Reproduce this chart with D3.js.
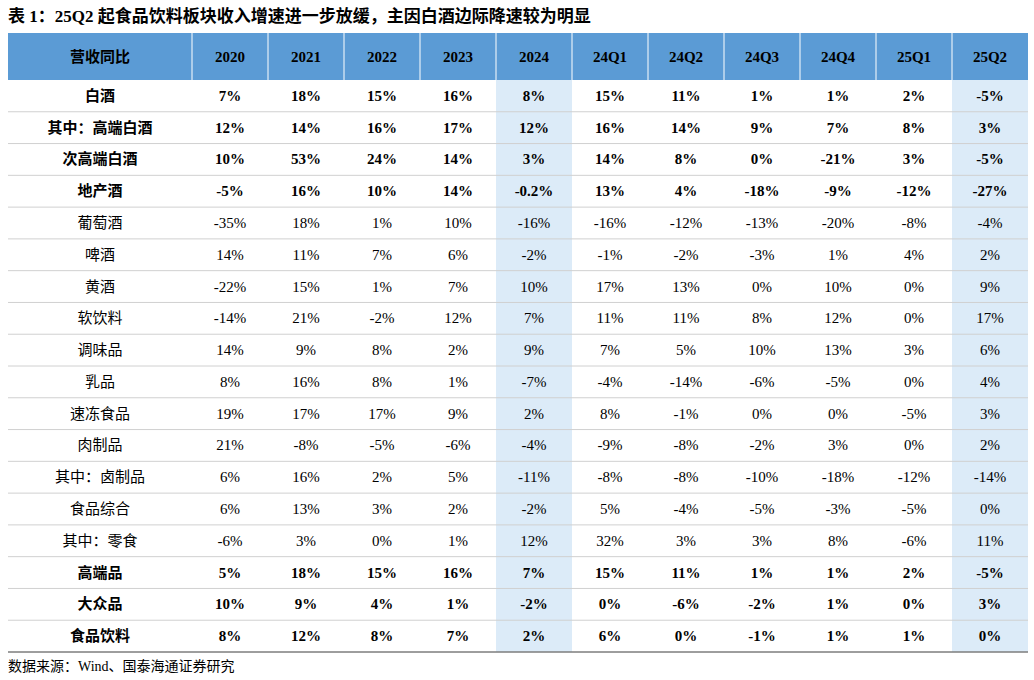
<!DOCTYPE html>
<html><head><meta charset="utf-8">
<script src="https://cdn.jsdelivr.net/npm/d3@7"></script>
<style>
body { margin: 0; background: #fff; }
text { font-family: "Liberation Serif", "Noto Sans CJK SC", serif; }
</style></head>
<body>
<svg id="chart"></svg>
<script>
const periods = ['2020','2021','2022','2023','2024','24Q1','24Q2','24Q3','24Q4','25Q1','25Q2']
const categories = ['白酒','其中：高端白酒','次高端白酒','地产酒','葡萄酒','啤酒','黄酒','软饮料','调味品','乳品','速冻食品','肉制品','其中：卤制品','食品综合','其中：零食','高端品','大众品','食品饮料']
const values = [
  ['7%','18%','15%','16%','8%','15%','11%','1%','1%','2%','-5%'],
  ['12%','14%','16%','17%','12%','16%','14%','9%','7%','8%','3%'],
  ['10%','53%','24%','14%','3%','14%','8%','0%','-21%','3%','-5%'],
  ['-5%','16%','10%','14%','-0.2%','13%','4%','-18%','-9%','-12%','-27%'],
  ['-35%','18%','1%','10%','-16%','-16%','-12%','-13%','-20%','-8%','-4%'],
  ['14%','11%','7%','6%','-2%','-1%','-2%','-3%','1%','4%','2%'],
  ['-22%','15%','1%','7%','10%','17%','13%','0%','10%','0%','9%'],
  ['-14%','21%','-2%','12%','7%','11%','11%','8%','12%','0%','17%'],
  ['14%','9%','8%','2%','9%','7%','5%','10%','13%','3%','6%'],
  ['8%','16%','8%','1%','-7%','-4%','-14%','-6%','-5%','0%','4%'],
  ['19%','17%','17%','9%','2%','8%','-1%','0%','0%','-5%','3%'],
  ['21%','-8%','-5%','-6%','-4%','-9%','-8%','-2%','3%','0%','2%'],
  ['6%','16%','2%','5%','-11%','-8%','-8%','-10%','-18%','-12%','-14%'],
  ['6%','13%','3%','2%','-2%','5%','-4%','-5%','-3%','-5%','0%'],
  ['-6%','3%','0%','1%','12%','32%','3%','3%','8%','-6%','11%'],
  ['5%','18%','15%','16%','7%','15%','11%','1%','1%','2%','-5%'],
  ['10%','9%','4%','1%','-2%','0%','-6%','-2%','1%','0%','3%'],
  ['8%','12%','8%','7%','2%','6%','0%','-1%','1%','1%','0%']
]
const boldRows = new Set([0,1,2,3,15,16,17])
const highlightCols = new Set(['2024','25Q2'])

const W = 1034, H = 680
const svg = d3.select('#chart').attr('width', W).attr('height', H)

svg.append('text').attr('x', 8).attr('y', 22)
  .attr('font-size', 17).attr('font-weight', 'bold')
  .text('表 1：25Q2 起食品饮料板块收入增速进一步放缓，主因白酒边际降速较为明显')

const tLeft = 8, firstW = 184, tRight = 1028
const tTop = 33, headH = 47, tBottom = 652
const x = d3.scaleBand().domain(periods).range([tLeft + firstW, tRight])
const y = d3.scaleBand().domain(categories).range([tTop + headH, tBottom])

// highlighted columns
svg.selectAll('.hl').data(periods.filter(p => highlightCols.has(p))).enter()
  .append('rect').attr('x', d => x(d)).attr('y', tTop + headH)
  .attr('width', x.bandwidth()).attr('height', tBottom - tTop - headH)
  .attr('fill', '#dcebf8')

// header
svg.append('rect').attr('x', tLeft).attr('y', tTop).attr('width', tRight - tLeft).attr('height', headH)
  .attr('fill', '#5b9bd5')
svg.selectAll('.vsep').data(periods).enter().append('line')
  .attr('x1', d => x(d)).attr('x2', d => x(d)).attr('y1', tTop).attr('y2', tTop + headH)
  .attr('stroke', '#ffffff').attr('stroke-width', 1)
svg.append('text').attr('x', tLeft + firstW / 2).attr('y', tTop + headH / 2 + 5)
  .attr('text-anchor', 'middle').attr('font-size', 15).attr('font-weight', 'bold').text('营收同比')
svg.selectAll('.hd').data(periods).enter().append('text')
  .attr('x', d => x(d) + x.bandwidth() / 2).attr('y', tTop + headH / 2 + 5)
  .attr('text-anchor', 'middle').attr('font-size', 15).attr('font-weight', 'bold').text(d => d)

// row lines
svg.selectAll('.hline').data(categories).enter().append('line')
  .attr('x1', tLeft).attr('x2', tRight)
  .attr('y1', d => y(d) + y.bandwidth()).attr('y2', d => y(d) + y.bandwidth())
  .attr('stroke', '#d0d0d0').attr('stroke-width', 1)
svg.append('line').attr('x1', tLeft).attr('x2', tRight).attr('y1', tBottom).attr('y2', tBottom)
  .attr('stroke', '#555').attr('stroke-width', 1.2)

// rows
const rows = svg.selectAll('.row').data(categories).enter().append('g')
  .attr('transform', d => 'translate(0,' + (y(d) + y.bandwidth() / 2 + 5) + ')')
rows.append('text').attr('x', tLeft + firstW / 2).attr('text-anchor', 'middle')
  .attr('font-size', 15).attr('font-weight', (d, i) => boldRows.has(i) ? 'bold' : 'normal')
  .text(d => d)
rows.each(function (d, i) {
  d3.select(this).selectAll('.v').data(values[i]).enter().append('text')
    .attr('x', (v, j) => x(periods[j]) + x.bandwidth() / 2)
    .attr('text-anchor', 'middle').attr('font-size', 15)
    .attr('font-weight', boldRows.has(i) ? 'bold' : 'normal')
    .text(v => v)
})

svg.append('text').attr('x', 8).attr('y', 671).attr('font-size', 14)
  .text('数据来源：Wind、国泰海通证券研究')
</script>
</body></html>
